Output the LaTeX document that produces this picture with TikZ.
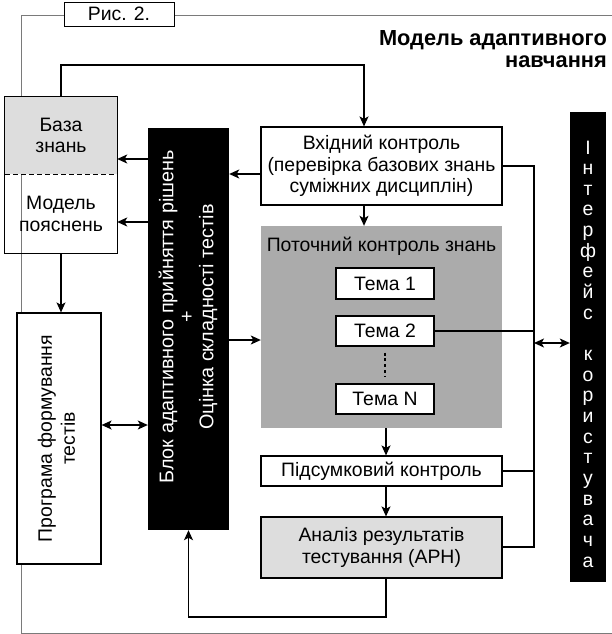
\documentclass[tikz,border=0pt]{standalone}
\usepackage{fontspec}
\setmainfont{Liberation Sans}
\usetikzlibrary{arrows.meta}
\definecolor{lightbox}{HTML}{DDDDDD}
\definecolor{midbox}{HTML}{ABABAB}
\definecolor{framegray}{HTML}{7A7A7A}
\begin{document}
\begin{tikzpicture}[x=1pt,y=-1pt,
  every node/.style={font=\fontsize{19.4}{21.5}\selectfont, inner sep=0pt, align=center},
  ln/.style={line width=1.2pt},
  box/.style={draw, line width=1.2pt, fill=white},
  arr/.style={ln, -{Stealth[length=10pt,width=9pt,inset=2.5pt]}},
  darr/.style={ln, {Stealth[length=10pt,width=9pt,inset=2.5pt]}-{Stealth[length=10pt,width=9pt,inset=2.5pt]}},
  framel/.style={line width=1pt, draw=framegray},
  uiletter/.style={text=white, text height=13pt, text depth=4pt}]
\useasboundingbox (0,0) rectangle (612,634);

% outer frame
\coordinate (fa) at (613,16);
\coordinate (fb) at (21,16);
\coordinate (fc) at (21,633);
\coordinate (fd) at (613,633);
\draw[framel] (fa) -- (fb) -- (fc) -- (fd);

\node[draw, line width=0.9pt, fill=white, minimum width=110pt, minimum height=24pt] (fig) at (119,14) {Рис. 2.};
\node[anchor=east, align=right, font=\bfseries\fontsize{21.8}{22}\selectfont] (title) at (607,49) {Модель адаптивного\\навчання};

% knowledge base / explanation model
\node[fill=lightbox, minimum width=112pt, minimum height=77pt] (kb) at (61,135.5) {База\\знань};
\node[minimum width=112pt, minimum height=78pt] (mp) at (61,214) {Модель\\пояснень};
\draw[ln] (kb.north west) rectangle (mp.south east);
\draw[ln, dash pattern=on 5pt off 3pt] (kb.south west) -- (kb.south east);

% test program
\node[box, minimum width=84pt, minimum height=251pt] (prog) at (59,438.5) {};
\node[rotate=90, font=\fontsize{19.4}{23}\selectfont] (progt) at (56.5,438.5) {Програма формування\\тестів};

% decision block
\node[fill=black, minimum width=81pt, minimum height=402pt] (blok) at (188.5,329) {};
\node[rotate=90, text=white, font=\fontsize{19.8}{20}\selectfont] (blokt) at (188,317) {Блок адаптивного прийняття рішень\\+\\Оцінка складності тестів};

% input control
\node[box, minimum width=241pt, minimum height=78pt] (vk) at (381.5,166) {Вхідний контроль\\(перевірка базових знань\\суміжних дисциплін)};

% current control
\node[fill=midbox, minimum width=241pt, minimum height=202pt] (cur) at (381.5,327) {};
\node (curt) at (381.5,246) {Поточний контроль знань};
\node[box, minimum width=98pt, minimum height=31pt] (t1) at (385,283.5) {Тема 1};
\node[box, minimum width=98pt, minimum height=30pt] (t2) at (385,331) {Тема 2};
\node[box, minimum width=98pt, minimum height=30pt] (tN) at (385,399) {Тема N};
\draw[line width=2.6pt, dash pattern=on 3pt off 2.8pt, shorten <=6pt, shorten >=7pt] (t2.south) -- (tN.north);

% final control and analysis
\node[box, minimum width=241pt, minimum height=30pt] (ps) at (381.5,471) {Підсумковий контроль};
\node[draw, line width=1.2pt, fill=lightbox, minimum width=241pt, minimum height=61pt] (an) at (381.5,547.5) {Аналіз результатів\\тестування (АРН)};

% user interface
\node[fill=black, minimum width=36pt, minimum height=470pt] (ui) at (588,347) {};
\foreach \c [count=\i from 0] in {І,н,т,е,р,ф,е,й,с,{},к,о,р,и,с,т,у,в,а,ч,а}
  \node[uiletter] (ui-\i) at (588,{149.5+\i*20.65}) {\c};

% connectors
\coordinate (c1) at (364,65);
\draw[arr] (kb.north) |- (c1) -- (vk.north -| c1);
\draw[arr] (blok.west |- 0,159) -- (kb.east |- 0,159);
\draw[arr] (vk.west |- 0,174) -- (blok.east |- 0,174);
\draw[arr] (blok.west |- 0,222) -- (mp.east |- 0,222);
\draw[arr] (blok.east |- 0,340) -- (cur.west |- 0,340);
\draw[darr] (prog.east |- 0,425) -- (blok.west |- 0,425);
\draw[arr] (mp.south) -- (prog.north -| mp.south);
\draw[arr] (vk.south -| c1) -- (cur.north -| c1);

\coordinate (c2) at (386,0);
\draw[arr] (cur.south -| c2) -- (ps.north -| c2);
\draw[arr] (ps.south -| c2) -- (an.north -| c2);
\coordinate (c3) at (188.5,617);
\draw[arr] (an.south -| c2) |- (c3) -- (blok.south);

% right bus
\coordinate (b1) at (534,166);
\coordinate (b2) at (534,547);
\draw[ln] (vk.east |- b1) -- (b1) -- (b2) -- (an.east |- b2);
\draw[ln] (t2.east) -- (t2.east -| b1);
\draw[ln] (ps.east) -- (ps.east -| b1);
\draw[darr] (b1 |- 0,343) -- (ui.west |- 0,343);
\end{tikzpicture}
\end{document}
